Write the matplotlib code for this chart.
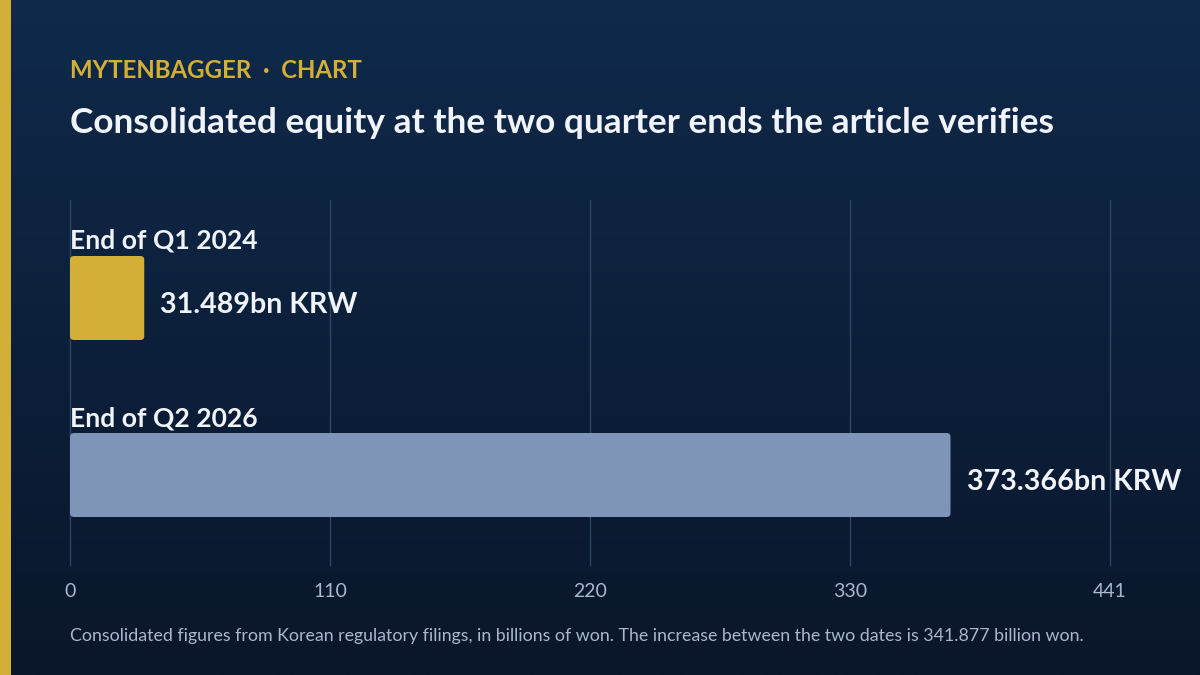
import matplotlib
matplotlib.use("Agg")
import matplotlib.pyplot as plt
import numpy as np
from matplotlib.patches import FancyBboxPatch, Rectangle

# ---- data ----
categories = ["End of Q1 2024", "End of Q2 2026"]
values = [31.489, 373.366]
value_labels = ["31.489bn KRW", "373.366bn KRW"]
bar_colors = ["#d4af37", "#7f95b7"]
x_max = 441
tick_values = [0, 110.25, 220.5, 330.75, 441]
tick_labels = ["0", "110", "220", "330", "441"]

eyebrow = "MYTENBAGGER  ·  CHART"
title = "Consolidated equity at the two quarter ends the article verifies"
footer = ("Consolidated figures from Korean regulatory filings, in billions of won. "
          "The increase between the two dates is 341.877 billion won.")

FONT = ["Lato", "DejaVu Sans"]
plt.rcParams["font.family"] = FONT

W, H = 1200, 675
fig = plt.figure(figsize=(12, 6.75), dpi=100)

# background gradient
bg = fig.add_axes([0, 0, 1, 1], zorder=-10)
top = np.array([0x0f, 0x2a, 0x4a]) / 255
bot = np.array([0x0a, 0x16, 0x2b]) / 255
t = np.linspace(0, 1, 256)[:, None]
grad = top[None, :] * (1 - t) + bot[None, :] * t
bg.imshow(grad[:, None, :], aspect="auto", extent=[0, 1, 0, 1])
bg.set_axis_off()
fig.patches.append(Rectangle((0, 0), 11 / W, 1, transform=fig.transFigure,
                             facecolor="#d4af37", edgecolor="none", zorder=5))

def fx(px):
    return px / W

def fy(py):
    return 1 - py / H

# plot axes: x 70..1110, y 200..565 (pixels from top)
ax = fig.add_axes([fx(70), fy(565), fx(1110) - fx(70), fy(200) - fy(565)])
ax.set_facecolor("none")
ax.set_xlim(0, x_max)
unit = 177.0
ax.set_ylim(1 + 90 / unit, -98 / unit)
bar_h = 84 / unit

pos = np.arange(len(categories))
bars = ax.barh(pos, values, height=bar_h, color=bar_colors)
rx = 4 * x_max / 1040
ry = 4 / unit
for b in bars:
    x0, y0 = b.get_x(), b.get_y()
    w, h = b.get_width(), b.get_height()
    p = FancyBboxPatch((x0, y0), w, h,
                       boxstyle=f"round,pad=0,rounding_size={rx}",
                       mutation_aspect=ry / rx,
                       facecolor=b.get_facecolor(), edgecolor="none", zorder=3)
    b.remove()
    ax.add_patch(p)

for i, (c, v, lab) in enumerate(zip(categories, values, value_labels)):
    ax.annotate(c, xy=(0, i - bar_h / 2), xytext=(0, 3), textcoords="offset pixels",
                ha="left", va="bottom", fontsize=19.1, fontweight="bold",
                color="#f1f4fa", zorder=4)
    ax.annotate(lab, xy=(v, i), xytext=(16, -7), textcoords="offset pixels",
                ha="left", va="center", fontsize=20.6, fontweight="bold",
                color="#f1f4fa", zorder=4)

ax.set_xticks(tick_values)
ax.set_xticklabels(tick_labels)
ax.set_yticks([])
ax.grid(axis="x", color="#2c4668", linewidth=1)
for gl in ax.get_xgridlines():
    gl.set_clip_on(False)
ax.set_axisbelow(True)
ax.tick_params(axis="x", length=0, pad=13, labelsize=14, labelcolor="#a9b8cf")
for s in ax.spines.values():
    s.set_visible(False)

fig.text(fx(70), fy(71), eyebrow, ha="left", va="center", fontsize=17.3,
         fontweight="bold", color="#d4af37")
fig.text(fx(70), fy(123), title, ha="left", va="center", fontsize=25.4,
         fontweight="bold", color="#f1f4fa")
fig.text(fx(70), fy(636), footer, ha="left", va="center", fontsize=12.75,
         color="#a9b8cf")

fig.savefig("out.png", dpi=100)
